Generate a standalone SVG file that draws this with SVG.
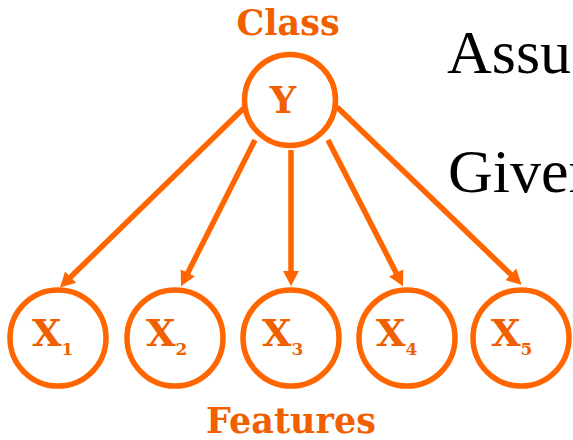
<svg xmlns="http://www.w3.org/2000/svg" width="573" height="440" viewBox="0 0 573 440">
<style>
.node{fill:#fff;stroke:#FF6600;stroke-width:5.5}
.lbl{font-family:"DejaVu Serif",serif;font-weight:bold;fill:#F06000;text-anchor:middle}
.xl{font-family:"DejaVu Serif",serif;font-weight:bold;fill:#F06000;font-size:38px}
.sub{font-size:17px}
.edge{stroke:#FF6600;stroke-width:5.5;fill:none;marker-end:url(#ah)}
.side{font-family:"Liberation Serif",serif;font-size:62px;fill:#000}
</style>
<defs>
<marker id="ah" markerUnits="userSpaceOnUse" markerWidth="16" markerHeight="18" refX="8" refY="8" orient="auto" viewBox="0 0 16 16">
<path d="M0,0 L15,8 L0,16 z" fill="#FF6600"/>
</marker>
</defs>
<text class="side" x="447" y="73">Assu</text>
<text class="side" x="448" y="192">Given</text>
<g id="connectors">
<line class="edge" x1="245" y1="107" x2="65" y2="282.5"/>
<line class="edge" x1="255" y1="140" x2="184.2" y2="279.9"/>
<line class="edge" x1="291" y1="150" x2="291" y2="279"/>
<line class="edge" x1="328" y1="140" x2="399.8" y2="279.9"/>
<line class="edge" x1="337" y1="107" x2="516.5" y2="279.9"/>
</g>
<g id="class-label"><text class="lbl" x="288" y="35" font-size="35">Class</text></g>
<g id="Y"><circle class="node" cx="290" cy="100" r="45.5"/><text class="lbl" x="283" y="113" font-size="37">Y</text></g>
<g id="X1"><circle class="node" cx="58" cy="338" r="48"/><text class="xl" x="32" y="346">X<tspan class="sub" dy="9">1</tspan></text></g>
<g id="X2"><circle class="node" cx="175" cy="338" r="48"/><text class="xl" x="146" y="346">X<tspan class="sub" dy="9">2</tspan></text></g>
<g id="X3"><circle class="node" cx="291" cy="338" r="48"/><text class="xl" x="262" y="346">X<tspan class="sub" dy="9">3</tspan></text></g>
<g id="X4"><circle class="node" cx="407" cy="338" r="48"/><text class="xl" x="376" y="346">X<tspan class="sub" dy="9">4</tspan></text></g>
<g id="X5"><circle class="node" cx="521" cy="338" r="48"/><text class="xl" x="491" y="346">X<tspan class="sub" dy="9">5</tspan></text></g>
<g id="features-label"><text class="lbl" x="291" y="433" font-size="35">Features</text></g>
</svg>
